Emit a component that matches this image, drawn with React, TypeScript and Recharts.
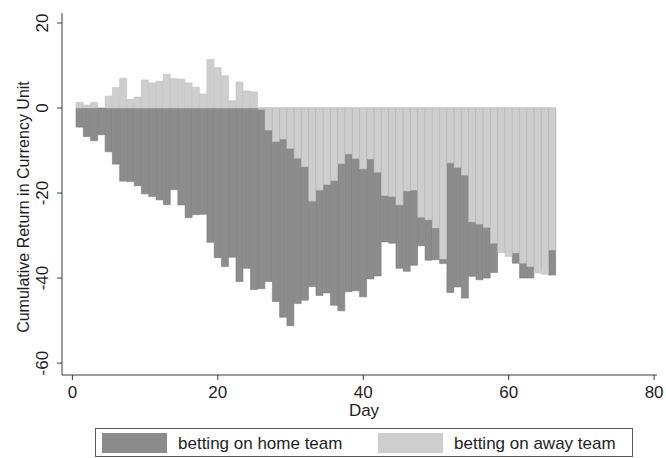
import React from 'react';
import { BarChart, Bar, XAxis, YAxis, Legend } from 'recharts';

const days = [
  1, 2, 3, 4, 5, 6, 7, 8, 9, 10, 11, 12, 13, 14, 15, 16, 17, 18, 19, 20, 21, 22,
  23, 24, 25, 26, 27, 28, 29, 30, 31, 32, 33, 34, 35, 36, 37, 38, 39, 40, 41, 42,
  43, 44, 45, 46, 47, 48, 49, 50, 51, 52, 53, 54, 55, 56, 57, 58, 59, 60, 61, 62,
  63, 64, 65, 66,
];

const homeTeam = [
  -4.5, -6.7, -7.7, -6.3, -10.3, -13.2, -17.2, -17.3, -18.3, -20.2, -20.8, -21.6,
  -22.7, -19.2, -22.8, -25.8, -25.1, -25.0, -31.6, -35.2, -37.3, -35.1, -40.8, -37.7,
  -42.7, -42.5, -40.8, -45.5, -49.2, -51.2, -46.0, -45.2, -42.0, -44.1, -43.5, -46.4,
  -47.7, -43.2, -43.0, -44.4, -40.2, -39.5, -31.5, -31.8, -37.7, -38.4, -37.0, -32.4,
  -35.8, -35.7, -36.6, -43.4, -42.1, -44.7, -39.6, -40.4, -40.0, -38.7, -33.0, -34.0,
  -36.5, -40.0, -40.0, -38.0, -38.0, -39.3,
];

const awayTeam = [
  1.3, 0.7, 1.3, 0.0, 2.8, 4.8, 7.0, 2.0, 2.6, 6.6, 5.9, 6.3,
  7.9, 6.9, 6.8, 5.9, 4.9, 3.3, 11.4, 9.5, 7.6, 1.7, 6.1, 4.0,
  3.8, -0.3, -5.2, -7.9, -7.3, -9.5, -11.8, -13.8, -21.9, -19.3, -18.0, -17.1,
  -13.1, -10.8, -11.9, -14.3, -12.0, -15.1, -20.6, -20.8, -22.8, -19.5, -19.3, -25.7,
  -26.3, -28.2, -35.5, -12.9, -14.0, -15.8, -26.8, -27.3, -28.1, -31.8, -34.0, -34.9,
  -34.1, -36.5, -37.3, -38.8, -39.1, -33.4,
];

const seriesNames = ['betting on home team', 'betting on away team'];
const xTicks = [0, 20, 40, 60, 80];
const yTicks = [-60, -40, -20, 0, 20];
const xDomain = [-1.43, 80.4];
const yDomain = [-62.8, 22.35];

const data = days.map((d, i) => ({ day: d, home: homeTeam[i], away: awayTeam[i] }));

const FONT = '"Liberation Sans", Arial, Helvetica, sans-serif';
const DARK = '#8c8c8c';
const DARK_EDGE = '#7c7c7c';
const LIGHT = '#cecece';
const LIGHT_EDGE = '#c1c1c1';
const AXIS = '#3a3a3a';
const TEXT = '#1e1e1e';

const YTick = (props: any) => {
  const { x, y, payload } = props;
  return (
    <text
      transform={`translate(${x - 13}, ${y}) rotate(-90)`}
      textAnchor="middle"
      dominantBaseline="central"
      fontSize={17}
      fontFamily={FONT}
      fill={TEXT}
    >
      {String(payload.value)}
    </text>
  );
};

const YLabel = () => (
  <text
    transform="translate(23, 207) rotate(-90)"
    textAnchor="middle"
    dominantBaseline="central"
    fontSize={16}
    fontFamily={FONT}
    fill={TEXT}
  >
    Cumulative Return in Currency Unit
  </text>
);

const XLabel = () => (
  <text
    x={364}
    y={410}
    textAnchor="middle"
    dominantBaseline="central"
    fontSize={17}
    fontFamily={FONT}
    fill={TEXT}
  >
    Day
  </text>
);

const LegendBox = () => (
  <svg width={538} height={30} style={{ display: 'block', overflow: 'visible' }}>
    <rect x={0.5} y={0.5} width={537} height={28} fill="#ffffff" stroke="#5a5a5a" strokeWidth={1} />
    <rect x={7} y={5} width={65} height={20} fill={DARK} />
    <text x={83} y={21} fontSize={17} fontFamily={FONT} fill={TEXT}>
      {seriesNames[0]}
    </text>
    <rect x={283} y={5} width={65} height={20} fill={LIGHT} />
    <text x={359} y={21} fontSize={17} fontFamily={FONT} fill={TEXT}>
      {seriesNames[1]}
    </text>
  </svg>
);

export default function App() {
  return (
    <div
      style={{
        position: 'absolute',
        left: 0,
        top: 0,
        width: 666,
        height: 458,
        overflow: 'hidden',
        background: '#ffffff',
      }}
    >
      <BarChart
        width={666}
        height={458}
        data={data}
        margin={{ top: 13, right: 9, bottom: 53, left: 0 }}
        barCategoryGap={0}
        barGap={0}
      >
        <XAxis
          xAxisId="h"
          dataKey="day"
          type="number"
          domain={xDomain}
          ticks={xTicks}
          allowDataOverflow
          height={30}
          tickSize={5}
          tickMargin={6}
          axisLine={{ stroke: AXIS, strokeWidth: 1 }}
          tickLine={{ stroke: AXIS, strokeWidth: 1 }}
          tick={{ fontSize: 17, fontFamily: FONT, fill: TEXT }}
          label={<XLabel />}
        />
        <XAxis
          xAxisId="a"
          dataKey="day"
          type="number"
          domain={xDomain}
          ticks={xTicks}
          allowDataOverflow
          height={0}
          hide
        />
        <YAxis
          type="number"
          domain={yDomain}
          ticks={yTicks}
          allowDataOverflow
          width={62}
          tickSize={5}
          axisLine={{ stroke: AXIS, strokeWidth: 1 }}
          tickLine={{ stroke: AXIS, strokeWidth: 1 }}
          tick={<YTick />}
          label={<YLabel />}
        />
        <Legend
          layout="horizontal"
          verticalAlign="middle"
          align="center"
          wrapperStyle={{ left: 95, top: 428, width: 538 }}
          content={() => <LegendBox />}
        />
        <Bar
          xAxisId="h"
          dataKey="home"
          name={seriesNames[0]}
          fill={DARK}
          stroke={DARK_EDGE}
          strokeWidth={0.6}
          isAnimationActive={false}
        />
        <Bar
          xAxisId="a"
          dataKey="away"
          name={seriesNames[1]}
          fill={LIGHT}
          stroke={LIGHT_EDGE}
          strokeWidth={0.6}
          isAnimationActive={false}
        />
      </BarChart>
    </div>
  );
}
